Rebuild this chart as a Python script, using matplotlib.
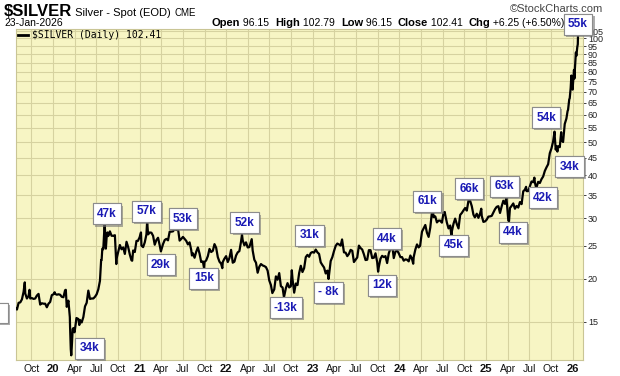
import matplotlib
matplotlib.use("Agg")
import matplotlib.pyplot as plt
import matplotlib.patheffects as pe
from matplotlib.patches import Rectangle
from matplotlib.ticker import FixedLocator, NullLocator, NullFormatter, FixedFormatter
import pandas as pd

# ---------------- data ----------------
price_dates = [
"2019-07-29","2019-08-02","2019-08-09","2019-08-16","2019-08-23","2019-08-30","2019-09-04","2019-09-06",
"2019-09-13","2019-09-20","2019-09-24","2019-09-27","2019-10-04","2019-10-11","2019-10-18","2019-10-25",
"2019-11-01","2019-11-08","2019-11-15","2019-11-22","2019-11-29","2019-12-06","2019-12-13","2019-12-20",
"2019-12-27","2020-01-03","2020-01-08","2020-01-10","2020-01-17","2020-01-24","2020-01-31","2020-02-07",
"2020-02-14","2020-02-21","2020-02-24","2020-02-28","2020-03-06","2020-03-12","2020-03-13","2020-03-16",
"2020-03-18","2020-03-20","2020-03-24","2020-03-27","2020-04-01","2020-04-09","2020-04-17","2020-04-21",
"2020-04-24","2020-05-01","2020-05-08","2020-05-15","2020-05-22","2020-05-29","2020-06-05","2020-06-12",
"2020-06-19","2020-06-26","2020-07-03","2020-07-10","2020-07-17","2020-07-22","2020-07-24","2020-07-27",
"2020-07-31","2020-08-06","2020-08-07","2020-08-11","2020-08-14","2020-08-18","2020-08-21","2020-08-28",
"2020-09-04","2020-09-11","2020-09-18","2020-09-21","2020-09-24","2020-09-25","2020-10-02","2020-10-09",
"2020-10-16","2020-10-23","2020-10-30","2020-11-06","2020-11-13","2020-11-20","2020-11-27","2020-11-30",
"2020-12-04","2020-12-11","2020-12-18","2020-12-24","2020-12-31","2021-01-06","2021-01-08","2021-01-15",
"2021-01-22","2021-01-29","2021-02-01","2021-02-05","2021-02-12","2021-02-19","2021-02-26","2021-03-05",
"2021-03-12","2021-03-19","2021-03-26","2021-03-31","2021-04-09","2021-04-16","2021-04-23","2021-04-30",
"2021-05-07","2021-05-14","2021-05-21","2021-05-28","2021-06-04","2021-06-11","2021-06-18","2021-06-25",
"2021-07-02","2021-07-09","2021-07-16","2021-07-23","2021-07-30","2021-08-06","2021-08-09","2021-08-13",
"2021-08-20","2021-08-27","2021-09-03","2021-09-10","2021-09-17","2021-09-24","2021-09-29","2021-10-01",
"2021-10-08","2021-10-15","2021-10-22","2021-10-29","2021-11-05","2021-11-12","2021-11-19","2021-11-26",
"2021-12-03","2021-12-10","2021-12-15","2021-12-17","2021-12-23","2021-12-31","2022-01-07","2022-01-14",
"2022-01-21","2022-01-28","2022-02-04","2022-02-11","2022-02-18","2022-02-25","2022-03-04","2022-03-08",
"2022-03-11","2022-03-18","2022-03-25","2022-04-01","2022-04-08","2022-04-18","2022-04-22","2022-04-29",
"2022-05-06","2022-05-13","2022-05-20","2022-05-27","2022-06-03","2022-06-10","2022-06-17","2022-06-24",
"2022-07-01","2022-07-08","2022-07-14","2022-07-22","2022-07-29","2022-08-05","2022-08-12","2022-08-19",
"2022-08-26","2022-09-01","2022-09-09","2022-09-16","2022-09-23","2022-09-30","2022-10-04","2022-10-07",
"2022-10-14","2022-10-21","2022-10-28","2022-11-04","2022-11-11","2022-11-18","2022-11-25","2022-12-02",
"2022-12-09","2022-12-16","2022-12-23","2022-12-30","2023-01-06","2023-01-13","2023-01-20","2023-01-27",
"2023-02-03","2023-02-10","2023-02-17","2023-02-24","2023-03-03","2023-03-08","2023-03-10","2023-03-17",
"2023-03-24","2023-03-31","2023-04-07","2023-04-14","2023-04-21","2023-04-28","2023-05-04","2023-05-12",
"2023-05-19","2023-05-26","2023-06-02","2023-06-09","2023-06-16","2023-06-23","2023-06-30","2023-07-07",
"2023-07-14","2023-07-21","2023-07-28","2023-08-04","2023-08-11","2023-08-18","2023-08-25","2023-09-01",
"2023-09-08","2023-09-15","2023-09-22","2023-09-29","2023-10-03","2023-10-06","2023-10-13","2023-10-20",
"2023-10-27","2023-11-03","2023-11-10","2023-11-17","2023-11-24","2023-12-01","2023-12-04","2023-12-08",
"2023-12-15","2023-12-22","2023-12-29","2024-01-05","2024-01-12","2024-01-19","2024-01-26","2024-02-02",
"2024-02-09","2024-02-16","2024-02-23","2024-02-28","2024-03-01","2024-03-08","2024-03-15","2024-03-22",
"2024-03-28","2024-04-05","2024-04-12","2024-04-19","2024-04-26","2024-05-03","2024-05-10","2024-05-17",
"2024-05-20","2024-05-24","2024-05-31","2024-06-07","2024-06-14","2024-06-21","2024-06-28","2024-07-05",
"2024-07-10","2024-07-12","2024-07-19","2024-07-26","2024-08-02","2024-08-07","2024-08-09","2024-08-16",
"2024-08-23","2024-08-30","2024-09-06","2024-09-13","2024-09-20","2024-09-27","2024-10-04","2024-10-11",
"2024-10-18","2024-10-22","2024-10-25","2024-11-01","2024-11-08","2024-11-14","2024-11-22","2024-11-29",
"2024-12-06","2024-12-11","2024-12-13","2024-12-20","2024-12-27","2025-01-03","2025-01-10","2025-01-17",
"2025-01-24","2025-01-31","2025-02-07","2025-02-14","2025-02-21","2025-02-28","2025-03-07","2025-03-14",
"2025-03-21","2025-03-27","2025-04-04","2025-04-07","2025-04-11","2025-04-17","2025-04-25","2025-05-02",
"2025-05-09","2025-05-16","2025-05-23","2025-05-30","2025-06-06","2025-06-13","2025-06-18","2025-06-20",
"2025-06-27","2025-07-03","2025-07-11","2025-07-18","2025-07-23","2025-07-25","2025-07-31","2025-08-08",
"2025-08-15","2025-08-22","2025-08-29","2025-09-05","2025-09-12","2025-09-19","2025-09-26","2025-10-03",
"2025-10-10","2025-10-16","2025-10-17","2025-10-21","2025-10-24","2025-10-28","2025-10-31","2025-11-07",
"2025-11-13","2025-11-14","2025-11-21","2025-11-28","2025-12-05","2025-12-10","2025-12-12","2025-12-17",
"2025-12-19","2025-12-23","2025-12-26","2025-12-29","2025-12-31","2026-01-06","2026-01-08","2026-01-09",
"2026-01-14","2026-01-16","2026-01-20","2026-01-22","2026-01-23",
]
price_values = [
16.40,16.30,17.05,17.10,17.45,18.35,19.55,18.15,
17.55,17.85,18.60,17.55,17.60,17.50,17.55,17.90,
18.10,16.85,17.00,16.95,16.95,16.55,16.95,17.15,
17.95,18.05,18.30,18.10,18.00,18.05,18.00,17.75,
17.70,18.55,18.60,16.60,17.30,15.50,14.50,12.50,
12.00,12.60,14.30,14.40,14.00,15.40,15.30,14.70,
15.20,14.95,15.50,16.65,17.05,18.50,17.50,17.55,
17.55,17.75,18.05,18.65,19.75,22.70,22.70,24.50,
24.40,29.10,28.00,24.50,26.35,27.30,26.65,27.50,
26.70,26.70,26.80,24.40,22.10,22.90,23.95,25.10,
24.40,24.70,23.65,25.65,24.75,23.55,22.65,22.60,
24.20,23.95,25.80,25.80,26.40,27.30,25.00,24.75,
25.55,26.95,29.40,26.95,27.30,27.25,26.70,25.15,
25.95,26.35,25.05,24.05,25.25,25.95,26.15,25.90,
27.45,27.45,27.50,27.95,27.75,28.05,25.85,26.15,
26.50,26.15,25.80,25.20,25.55,24.25,23.40,23.75,
23.05,24.00,24.70,23.70,22.40,22.50,21.50,22.40,
22.65,23.30,24.45,23.95,24.15,25.25,24.65,23.15,
22.45,22.15,21.50,22.40,22.85,23.30,22.40,23.00,
24.30,22.30,22.45,23.40,23.90,24.10,25.70,26.90,
25.90,25.05,25.55,24.70,24.75,26.10,24.20,22.75,
22.30,20.85,21.70,22.10,21.90,21.80,21.65,21.15,
19.80,19.20,18.20,18.65,20.35,19.90,20.80,19.05,
18.90,17.70,18.80,19.45,18.90,19.05,21.20,20.00,
18.25,19.40,19.20,20.80,21.85,20.95,21.50,23.15,
23.50,23.20,23.80,23.95,23.85,24.35,23.90,23.65,
22.35,21.95,21.60,20.75,21.15,20.00,20.55,22.55,
23.15,24.10,24.95,25.35,25.20,25.00,26.05,23.90,
23.85,23.30,23.65,24.30,24.15,22.40,22.75,23.10,
25.00,24.60,24.35,23.60,22.70,22.75,24.25,24.25,
23.00,23.05,23.75,22.40,21.00,21.70,22.90,23.35,
23.15,23.30,22.25,23.75,24.50,25.55,24.25,23.00,
24.00,24.20,23.75,23.15,23.15,22.60,22.80,22.75,
22.50,23.40,22.85,22.15,23.15,24.35,25.20,24.70,
24.95,27.45,28.05,28.70,27.25,26.50,28.20,31.30,
32.30,30.25,30.40,29.20,29.55,29.55,29.15,31.15,
31.30,30.75,29.15,28.05,28.60,26.70,27.50,28.95,
29.95,28.85,28.05,30.70,31.10,31.65,32.15,31.60,
33.75,34.85,33.75,32.55,30.75,30.20,30.95,30.10,
31.00,32.00,30.50,29.30,29.40,29.75,30.35,30.40,
30.50,31.20,31.90,32.40,32.55,31.10,32.50,33.75,
33.05,34.55,29.60,29.40,32.15,32.55,33.15,32.00,
32.60,32.25,33.45,33.00,35.95,36.35,37.05,36.00,
36.00,37.00,38.40,38.20,39.40,38.15,36.70,38.30,
38.00,39.00,39.70,41.20,42.20,43.10,46.40,47.90,
50.20,53.60,51.80,47.50,48.60,46.90,48.60,48.30,
53.40,50.70,50.00,56.40,58.50,61.50,62.00,66.50,
67.00,71.80,78.00,72.00,71.00,81.00,76.50,79.80,
91.00,89.00,94.50,96.15,102.41,
]

label_texts = ["34k","47k","57k","53k","29k","15k","52k","-13k","31k","- 8k","44k",
               "12k","61k","45k","66k","63k","44k","42k","34k","54k","55k"]
label_dates = ["2020-06-03","2020-08-15","2021-01-30","2021-07-02","2021-03-31","2021-09-28",
               "2022-03-20","2022-09-09","2022-12-19","2023-03-07","2023-11-09","2023-10-19",
               "2024-04-27","2024-08-15","2024-10-20","2025-03-19","2025-04-24","2025-08-28",
               "2025-12-18","2025-09-10","2026-01-23"]
label_prices = [12.6,30.9,31.5,29.9,22.0,20.1,29.1,16.5,26.8,18.3,26.2,19.2,
                33.6,25.1,36.6,37.2,27.3,34.4,42.4,58.9,110.0]

ytick_values = [15,20,25,30,35,40,45,50,55,60,65,70,75,80,85,90,95,100,105]
quarter_starts = pd.date_range("2019-10-01", "2026-01-01", freq="QS")
x_start, x_end = "2019-07-29", "2026-02-13"
y_min, y_max = 11.63, 106.5

# ---------------- style ----------------
W, H = 620, 376
BG = "#f7f5c4"
GRID = "#d6d2a0"
BLUE = "#1a1ab4"

plt.rcParams["font.family"] = ["Liberation Sans", "DejaVu Sans"]

fig = plt.figure(figsize=(W/100, H/100), dpi=100)
fig.patch.set_facecolor("white")

def fx(px):
    return px / W
def fy(py):
    return 1 - py / H

ax = fig.add_axes([fx(16), fy(360), (583-16)/W, (360-29)/H])
ax.set_facecolor(BG)

x = pd.to_datetime(price_dates)
ax.plot(x, price_values, color="black", lw=1.6, zorder=3, solid_joinstyle="round")

ax.set_yscale("log")
ax.set_ylim(y_min, y_max)
ax.set_xlim(pd.Timestamp(x_start), pd.Timestamp(x_end))

ax.yaxis.set_major_locator(FixedLocator(ytick_values))
ax.yaxis.set_major_formatter(FixedFormatter([str(v) for v in ytick_values]))
ax.yaxis.set_minor_locator(NullLocator())
ax.yaxis.set_minor_formatter(NullFormatter())
ax.yaxis.tick_right()
ax.tick_params(axis="y", which="major", length=2, pad=1.5, labelsize=6.5,
               colors="#222222", width=0.6)

ax.set_xticks(quarter_starts)
xlabels = [f"{d.year % 100:02d}" if d.month == 1 else d.strftime("%b") for d in quarter_starts]
ax.set_xticklabels(xlabels)
ax.tick_params(axis="x", length=0, pad=3, labelsize=7.5, colors="#111111")
for lab, d in zip(ax.get_xticklabels(), quarter_starts):
    if d.month == 1:
        lab.set_fontweight("bold")
        lab.set_fontsize(8)

ax.grid(True, which="major", color=GRID, lw=0.8, zorder=0)
ax.set_axisbelow(True)
for s in ax.spines.values():
    s.set_color("#c9c595")
    s.set_linewidth(0.8)

# annotation boxes
shadow = [pe.withSimplePatchShadow(offset=(1.5, -1.5), shadow_rgbFace="#777777", alpha=0.6), pe.Normal()]
for t, d, p in zip(label_texts, label_dates, label_prices):
    txt = ax.text(pd.Timestamp(d), p, t, ha="center", va="center", fontsize=8.5,
                  fontweight="bold", color=BLUE, zorder=6, clip_on=False,
                  bbox=dict(boxstyle="square,pad=0.38", fc="white", ec="#8c8c8c", lw=0.8))
    txt.get_bbox_patch().set_path_effects(shadow)

# partly hidden box at the left edge
r = Rectangle((fx(-21), fy(323)), 29/W, 20/H, transform=fig.transFigure,
              fc="white", ec="#8c8c8c", lw=0.8, zorder=6)
r.set_path_effects(shadow)
fig.add_artist(r)

# legend inside plot
ax.add_artist(plt.Line2D([fx(18), fx(28)], [fy(35), fy(35)], transform=fig.transFigure,
                         color="black", lw=2.0, zorder=7))
fig.text(fx(32), fy(35), "$SILVER (Daily) 102.41", family="DejaVu Sans Mono",
         fontsize=7, va="center", ha="left", color="black", zorder=7)

# header
renderer = fig.canvas.get_renderer()
def chain(x0, ybase, pieces):
    xx = x0
    for s, w, size, col in pieces:
        t = fig.text(fx(xx), fy(ybase), s, fontsize=size, fontweight=w, color=col,
                     va="baseline", ha="left", zorder=5)
        bb = t.get_window_extent(renderer)
        xx = bb.x1
    return xx

chain(4, 16, [("$SILVER", "bold", 12, "black"), (" Silver - Spot (EOD) ", "normal", 8, "black"),
              ("CME", "normal", 7, "black")])
fig.text(fx(4), fy(26), "23-Jan-2026", fontsize=7.5, va="baseline", ha="left")
chain(212, 26, [("Open", "bold", 8, "black"), (" 96.15  ", "normal", 7.5, "black"),
                ("High", "bold", 8, "black"), (" 102.79  ", "normal", 7.5, "black"),
                ("Low", "bold", 8, "black"), (" 96.15  ", "normal", 7.5, "black"),
                ("Close", "bold", 8, "black"), (" 102.41  ", "normal", 7.5, "black"),
                ("Chg", "bold", 8, "black"), (" +6.25 (+6.50%)", "normal", 7.5, "black")])
fig.text(fx(603), fy(12), "\u00a9StockCharts.com", fontsize=8, color="#444444",
         ha="right", va="baseline")

fig.savefig("out.png", dpi=100, facecolor="white")
